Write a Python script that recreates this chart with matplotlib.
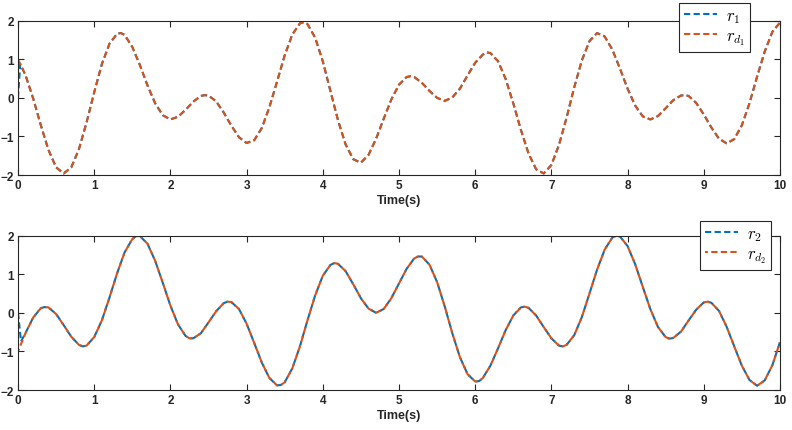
import matplotlib
matplotlib.use("Agg")
import matplotlib.pyplot as plt

plt.rcParams['mathtext.fontset'] = 'cm'
plt.rcParams['font.family'] = ['Liberation Sans', 'DejaVu Sans']

# time axis (s), regular grid
time = [round(0.1 * i, 1) for i in range(101)]

# desired trajectory, channel 1
rd1 = [1.00, 0.58, -0.02, -0.71, -1.35, -1.80, -1.96, -1.80, -1.33, -0.64,
       0.14, 0.87, 1.40, 1.66, 1.63, 1.32, 0.85, 0.32, -0.14, -0.45,
       -0.56, -0.49, -0.31, -0.10, 0.05, 0.06, -0.09, -0.38, -0.72, -1.02,
       -1.17, -1.10, -0.78, -0.24, 0.42, 1.10, 1.64, 1.93, 1.91, 1.56,
       0.95, 0.18, -0.58, -1.21, -1.59, -1.68, -1.48, -1.06, -0.54, -0.04,
       0.34, 0.54, 0.54, 0.39, 0.18, 0.00, -0.08, 0.01, 0.24, 0.58,
       0.91, 1.12, 1.16, 0.95, 0.49, -0.14, -0.83, -1.44, -1.85, -1.96,
       -1.74, -1.22, -0.51, 0.27, 0.97, 1.47, 1.68, 1.59, 1.25, 0.76,
       0.24, -0.20, -0.48, -0.56, -0.47, -0.27, -0.06, 0.06, 0.05, -0.13,
       -0.43, -0.77, -1.06, -1.18, -1.07, -0.71, -0.14, 0.55, 1.20, 1.71,
       1.95]
# extra readings at the turning points of channel 1
peaks1_t = [1.35, 2.45, 3.75, 5.15, 6.15, 8.75]
peaks1_v = [1.68, 0.07, 1.96, 0.56, 1.18, 0.07]

# desired trajectory, channel 2
rd2 = [-1.00, -0.52, -0.12, 0.12, 0.14, -0.03, -0.32, -0.62, -0.83, -0.85,
       -0.63, -0.20, 0.39, 1.02, 1.57, 1.91, 1.99, 1.79, 1.35, 0.78,
       0.19, -0.30, -0.60, -0.66, -0.53, -0.25, 0.04, 0.25, 0.28, 0.10,
       -0.28, -0.78, -1.29, -1.69, -1.88, -1.80, -1.44, -0.87, -0.19, 0.45,
       0.96, 1.24, 1.27, 1.08, 0.74, 0.38, 0.11, 0.00, 0.10, 0.38,
       0.76, 1.14, 1.41, 1.46, 1.25, 0.80, 0.17, -0.53, -1.15, -1.59,
       -1.78, -1.69, -1.37, -0.92, -0.45, -0.07, 0.14, 0.13, -0.07, -0.37,
       -0.66, -0.85, -0.83, -0.58, -0.11, 0.50, 1.12, 1.64, 1.95, 1.98,
       1.73, 1.26, 0.67, 0.09, -0.37, -0.63, -0.65, -0.49, -0.20, 0.08,
       0.27, 0.26, 0.05, -0.36, -0.87, -1.37, -1.74, -1.89, -1.75, -1.36,
       -0.76]
# extra readings at the turning points of channel 2
peaks2_t = [0.35, 0.85, 1.55, 2.25, 2.75, 3.45, 4.15, 5.25, 6.05, 6.65,
            7.15, 7.85, 8.55, 9.05]
peaks2_v = [0.15, -0.87, 1.99, -0.66, 0.29, -1.87, 1.29, 1.46, -1.77, 0.16,
            -0.87, 2.00, -0.67, 0.29]

# actual outputs: short initial transient, then they follow the references
r1_start_t = [0.0, 0.03]
r1_start_v = [0.0, 0.88]
r2_start_t = [0.0, 0.04]
r2_start_v = [0.0, -0.74]


def merge(t_a, v_a, t_b, v_b):
    pairs = sorted(zip(list(t_a) + list(t_b), list(v_a) + list(v_b)))
    return [p[0] for p in pairs], [p[1] for p in pairs]


t_d1, v_d1 = merge(time, rd1, peaks1_t, peaks1_v)
t_d2, v_d2 = merge(time, rd2, peaks2_t, peaks2_v)
t_r1 = r1_start_t + t_d1[1:]
r1 = r1_start_v + v_d1[1:]
t_r2 = r2_start_t + t_d2[1:]
r2 = r2_start_v + v_d2[1:]

xticks = list(range(0, 11))
yticks = [-2, -1, 0, 1, 2]

BLUE = '#0072BD'
ORANGE = '#D95319'
AX = '#262626'

fig = plt.figure(figsize=(7.92, 4.31), dpi=100)
ax1 = fig.add_axes([0.0227, 0.5916, 0.9621, 0.3581])
ax2 = fig.add_axes([0.0227, 0.0928, 0.9621, 0.3581])

dash = (0, (3.0, 1.6))
dash_off = (1.6, (3.0, 1.6))


def style(ax):
    ax.set_xlim(0, 10)
    ax.set_ylim(-2, 2)
    ax.set_xticks(xticks)
    ax.set_yticks(yticks)
    ax.tick_params(direction='in', length=4, width=0.8, colors=AX,
                   top=True, right=True, labelsize=8.5, pad=3)
    for lab in ax.get_xticklabels() + ax.get_yticklabels():
        lab.set_fontweight('bold')
    for s in ax.spines.values():
        s.set_color(AX)
        s.set_linewidth(0.8)
    ax.set_xlabel('Time(s)', fontsize=9, fontweight='bold', color=AX, labelpad=2)


l1, = ax1.plot(t_r1, r1, color=BLUE, lw=1.5, linestyle=dash, label=r'$r_1$')
l2, = ax1.plot(t_d1, v_d1, color=ORANGE, lw=1.5, linestyle=dash, label=r'$r_{d_1}$')
style(ax1)
leg1 = fig.legend(handles=[l1, l2], loc='upper left',
                  bbox_to_anchor=(679 / 792, 1 - 4 / 431), fontsize=12,
                  frameon=True, fancybox=False, edgecolor=AX, framealpha=1,
                  handlelength=2.0, handletextpad=0.5, borderpad=0.3,
                  labelspacing=0.2, borderaxespad=0)
leg1.get_frame().set_linewidth(0.8)

l3, = ax2.plot(t_r2, r2, color=BLUE, lw=1.5, linestyle=dash, label=r'$r_2$')
l4, = ax2.plot(t_d2, v_d2, color=ORANGE, lw=1.5, linestyle=dash_off, label=r'$r_{d_2}$')
style(ax2)
leg2 = fig.legend(handles=[l3, l4], loc='upper left',
                  bbox_to_anchor=(700 / 792, 1 - 222 / 431), fontsize=12,
                  frameon=True, fancybox=False, edgecolor=AX, framealpha=1,
                  handlelength=2.0, handletextpad=0.5, borderpad=0.3,
                  labelspacing=0.2, borderaxespad=0)
leg2.get_frame().set_linewidth(0.8)

fig.savefig('out.png', dpi=100)
